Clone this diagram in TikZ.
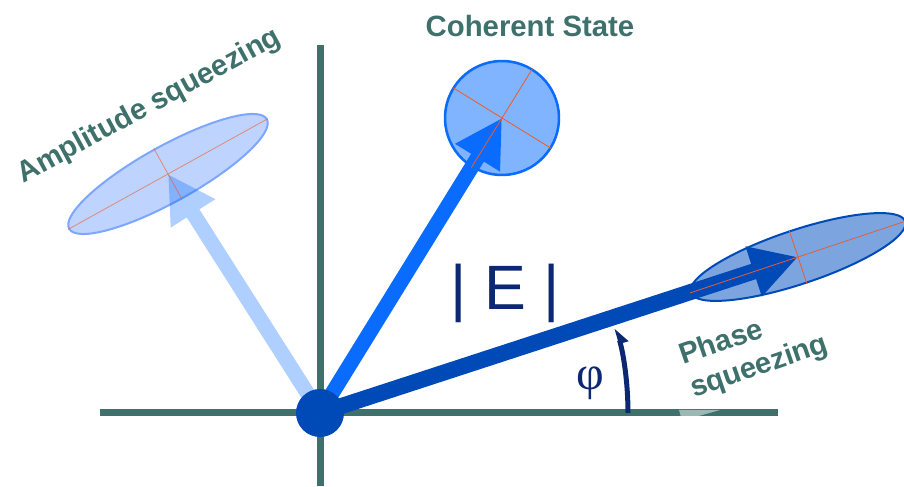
\documentclass[tikz,border=0pt]{standalone}
\usepackage{fontspec}
\setsansfont{Liberation Sans}
\newfontfamily\phifont{Liberation Serif}
\usetikzlibrary{arrows.meta,shapes.geometric}

\definecolor{axisteal}{RGB}{62,112,108}
\definecolor{cohblue}{RGB}{10,108,255}
\definecolor{cohfill}{RGB}{128,180,255}
\definecolor{ampline}{RGB}{125,166,255}
\definecolor{ampfill}{RGB}{191,211,255}
\definecolor{phsblue}{RGB}{0,74,184}
\definecolor{phsfill}{RGB}{124,165,223}
\definecolor{navy}{RGB}{12,40,115}
\definecolor{crossred}{RGB}{240,90,40}

\begin{document}
\begin{tikzpicture}[x=0.75pt, y=0.75pt,
  every node/.style={inner sep=0pt},
  caption/.style={font=\sffamily\bfseries\fontsize{22}{26}\selectfont, text=axisteal},
  axis/.style={line width=5.25pt, axisteal},
  vec/.style={line width=11.25pt, -{Triangle[length=35pt,width=37pt]}},
  cross/.style={line width=0.6pt, crossred}]

  \useasboundingbox (0,0) rectangle (904,486);

  % Axes
  \coordinate (xl) at (100,73);
  \coordinate (xr) at (778,73);
  \coordinate (yb) at (320,0);
  \coordinate (yt) at (320,441);
  \coordinate (origin) at (320,73);
  \draw[axis] (xl) -- (xr);
  \draw[axis] (yb) -- (yt);
  \fill[white, opacity=0.5] (679,76) -- (720,76) -- (695,69) -- (681,69) -- cycle;

  % States
  \node[ellipse, draw=ampline, fill=ampfill, line width=1.5pt,
        minimum width=169.5pt, minimum height=42pt, rotate=29] (amp) at (168,312) {};
  \node[circle, draw=cohblue, fill=cohfill, line width=1.9pt,
        minimum size=85.5pt, rotate=-31.7] (coh) at (502,368) {};
  \node[ellipse, draw=phsblue, fill=phsfill, line width=1.5pt,
        minimum width=169.5pt, minimum height=40.5pt, rotate=18.4] (phs) at (798,229) {};

  % Vectors
  \begin{scope}[transparency group, opacity=0.33]
    \draw[vec, cohblue] (origin) -- (amp.center);
  \end{scope}
  \draw[vec, cohblue] (origin) -- (coh.center);
  \draw[vec, phsblue, line width=12pt] (origin) -- (phs.center);

  % Quadrature axes
  \draw[cross, opacity=0.6] (amp.west) -- (amp.east);
  \draw[cross, opacity=0.6] (amp.north) -- (amp.south);
  \draw[cross] (coh.west) -- (coh.east);
  \draw[cross] (coh.north) -- (coh.south);
  \draw[cross] (phs.west) -- (phs.east);
  \draw[cross] (phs.north) -- (phs.south);

  \node[circle, fill=phsblue, minimum size=36pt] (O) at (origin) {};

  % Angle
  \draw[line width=3.75pt, navy, -{Triangle[length=10pt,width=12pt,harpoon,swap]}]
    ([shift={(308,0)}]origin) arc[start angle=0, end angle=16, radius=308];

  % Labels
  \node[caption, anchor=base] (cohlbl) at (530,449) {Coherent State};
  \node[caption, anchor=base, rotate=28.5] (amplbl) at (153,373) {Amplitude squeezing};
  \node[caption, anchor=base west, rotate=19] (phslbl) at (683,121) {Phase};
  \node[caption, anchor=base west, rotate=19] (sqzlbl) at (694,88) {squeezing};
  \node[font=\sffamily\fontsize{47}{56}\selectfont, text=navy, anchor=base] (mag) at (505,176) {| E |};
  \node[font=\phifont\fontsize{36}{42}\selectfont, text=navy] (phi) at (590,103) {φ};
\end{tikzpicture}
\end{document}
